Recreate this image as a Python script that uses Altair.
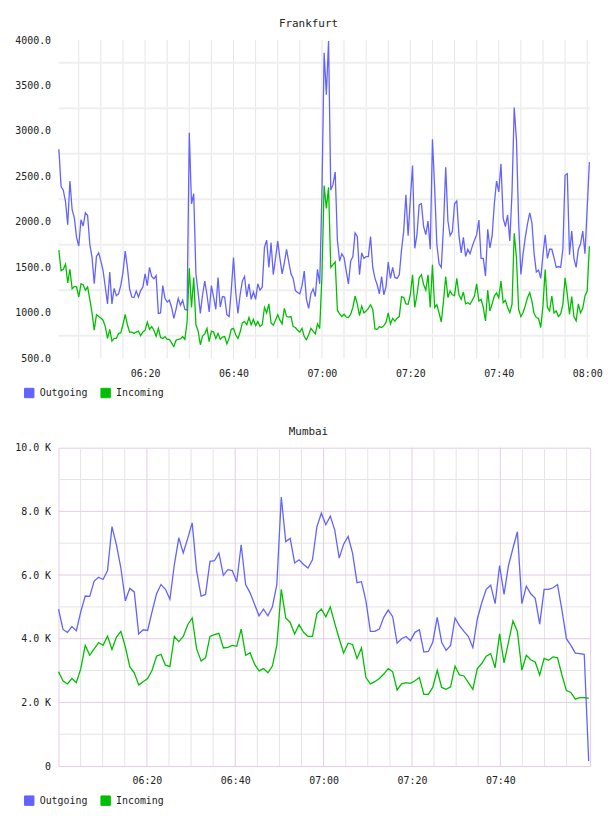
import altair as alt
import numpy as np
import pandas as pd

# ---------------------------------------------------------------------------
# Frankfurt: one sample every 30 s, 06:00:30 .. 08:00:30 (241 samples)
# ---------------------------------------------------------------------------
fra_outgoing = [
    2800, 2390, 2350, 2225, 1970, 2450, 2135, 2045, 1830, 1735,
    2025, 1955, 2100, 2070, 1755, 1610, 1320, 1620, 1660, 1570,
    1465, 1285, 1100, 1450, 1100, 1270, 1190, 1210, 1300, 1445,
    1680, 1500, 1265, 1175, 1170, 1240, 1175, 1245, 1285, 1430,
    1300, 1500, 1400, 1375, 1410, 995, 1000, 1300, 1160, 1120,
    1140, 1060, 940, 1040, 1160, 1085, 1140, 1040, 1030, 2980,
    2200, 2310, 1430, 1220, 995, 1200, 1350, 1200, 1010, 1300,
    1175, 1040, 1390, 1065, 1180, 1175, 980, 960, 1250, 1610,
    1230, 995, 1200, 1350, 1400, 1175, 1320, 1150, 1230, 1150,
    1320, 1250, 1285, 1720, 1800, 1500, 1770, 1420, 1600, 1790,
    1600, 1430, 1550, 1700, 1560, 1430, 1380, 1245, 1225, 1210,
    1300, 1460, 1150, 1050, 1210, 1265, 1180, 1480, 1320, 2300,
    3860, 3400, 3990, 2350, 2410, 2550, 1800, 1570, 1650, 1610,
    1460, 1320, 1570, 1620, 1880, 1840, 1420, 1660, 1600, 1620,
    1620, 1840, 1500, 1380, 1310, 1210, 1400, 1200, 1290, 1560,
    1380, 1500, 1390, 1380, 1420, 1690, 1900, 2300, 1850, 2250,
    2620, 1710, 1860, 2190, 2200, 1950, 1860, 2010, 1700, 2910,
    2370, 1750, 1540, 1500, 1950, 2600, 2010, 1850, 1895, 2200,
    2230, 1850, 1660, 1830, 1620, 1700, 1650, 1732, 1800, 1860,
    2020, 1600, 1600, 1405, 1920, 1714, 1850, 2200, 2450, 2330,
    2640, 2040, 1950, 2077, 1790, 2331, 3258, 2900, 2000, 1424,
    1650, 1830, 1980, 2100, 1990, 1650, 1450, 1470, 1380, 1640,
    1860, 1600, 1700, 1700, 1605, 1500, 1510, 1500, 1700, 2513,
    2531, 1641, 1900, 1600, 1500, 1700, 1760, 1900, 1650, 2150,
    2658,
]
fra_incoming = [
    1690, 1465, 1480, 1535, 1330, 1480, 1265, 1290, 1290, 1175,
    1320, 1310, 1250, 1285, 1150, 1000, 810, 980, 960, 945,
    920, 850, 720, 820, 690, 720, 720, 775, 780, 870,
    985, 870, 790, 790, 775, 790, 800, 750, 790, 810,
    900, 820, 850, 810, 745, 830, 730, 720, 740, 710,
    710, 670, 630, 700, 710, 715, 740, 710, 900, 1490,
    1060, 1390, 870, 800, 650, 745, 770, 830, 685, 800,
    790, 720, 775, 710, 735, 740, 660, 720, 820, 830,
    760, 720, 790, 890, 905, 870, 950, 870, 930, 860,
    905, 850, 870, 1060, 1000, 1100, 890, 865, 920, 980,
    920, 880, 1050, 960, 955, 960, 850, 840, 810, 790,
    830, 740, 705, 760, 830, 800, 770, 880, 830, 1400,
    2400, 2150, 2380, 1500, 1530, 1560, 1030, 990, 960, 985,
    955, 950, 985, 1060, 1186, 1100, 970, 1075, 1000, 1020,
    1050, 1090, 1040, 825, 820, 850, 840, 860, 895, 1000,
    880, 940, 910, 942, 960, 1180, 1170, 1100, 1095, 1200,
    1420, 1060, 1200, 1386, 1420, 1313, 1250, 1420, 1060, 1530,
    1060, 1090, 1000, 900, 1130, 1400, 1170, 1240, 1200, 1190,
    1380, 1200, 1150, 1230, 1100, 1113, 1095, 1140, 1186, 1320,
    1131, 1150, 1060, 913, 1250, 1022, 1100, 1186, 1220, 1168,
    1349, 1113, 1140, 1060, 1004, 1095, 1876, 1604, 1040, 960,
    1004, 1080, 1168, 1222, 1130, 990, 950, 940, 840, 1080,
    1477, 1060, 1022, 1186, 1000, 1022, 960, 990, 1095, 1386,
    1204, 986, 1180, 960, 913, 1100, 1000, 1050, 1186, 1240,
    1732,
]

# ---------------------------------------------------------------------------
# Mumbai: 120 samples spread evenly over 06:00 .. 08:00
# ---------------------------------------------------------------------------
mum_outgoing = [
    4930, 4290, 4200, 4380, 4250, 4850, 5340, 5330, 5810, 5930,
    5860, 6140, 7520, 6950, 6220, 5190, 5580, 5470, 4150, 4280,
    4260, 4850, 5410, 5700, 5550, 5240, 6330, 7170, 6690, 7150,
    7640, 6120, 5340, 5390, 6430, 6450, 6690, 5990, 6170, 6140,
    5790, 6950, 5700, 5440, 5080, 4720, 4930, 4720, 5000, 5700,
    8450, 7050, 7150, 6380, 6480, 6330, 6220, 6480, 7520, 7940,
    7580, 7850, 7410, 6530, 6970, 7210, 6690, 5760, 5790, 5190,
    4230, 4230, 4300, 4670, 4900, 4690, 3860, 4000, 4070, 3940,
    4200, 4280, 3580, 3600, 3890, 4670, 3890, 3630, 3790, 4650,
    4410, 4230, 4070, 3720, 4620, 5130, 5550, 5680, 5100, 6300,
    5390, 6300, 6840, 7360, 5100, 5650, 5410, 5270, 4460, 5550,
    5550, 5600, 5700, 4900, 4000, 3790, 3550, 3530, 3510, 160,
]
mum_incoming = [
    2960, 2680, 2580, 2750, 2620, 3060, 3790, 3480, 3680, 3880,
    3790, 4080, 3660, 4050, 4230, 3740, 3120, 2930, 2550, 2650,
    2750, 3010, 3450, 3510, 3170, 3120, 4070, 3910, 4070, 4440,
    4650, 3680, 3300, 3400, 4070, 4130, 4170, 3710, 3730, 3790,
    3760, 4300, 3480, 3560, 3200, 2990, 3060, 2930, 3140, 3790,
    5550, 4650, 4510, 4150, 4440, 4200, 4070, 4070, 4790, 4930,
    4690, 5000, 4480, 4000, 3550, 3860, 3820, 3380, 3710, 2780,
    2580, 2650, 2750, 2890, 3060, 2960, 2390, 2580, 2620, 2600,
    2680, 2780, 2250, 2250, 2470, 3010, 2470, 2410, 2490, 3140,
    2860, 2830, 2620, 2410, 3060, 3220, 3450, 3530, 3090, 4150,
    3240, 3890, 4560, 4230, 3010, 3480, 3340, 3270, 2860, 3380,
    3320, 3430, 3400, 2860, 2370, 2310, 2100, 2150, 2150, 2130,
]

SERIES = ["Outgoing", "Incoming"]
COLORS = ["#6262ff", "#00bf00"]
MONO = "DejaVu Sans Mono"
TEXT = "#222222"


def long_table(minutes, outgoing, incoming):
    return pd.DataFrame({
        "minute": np.concatenate([minutes, minutes]),
        "value": outgoing + incoming,
        "series": ["Outgoing"] * len(outgoing) + ["Incoming"] * len(incoming),
    })


# sample times in minutes after 06:00
fra_minutes = 0.5 + 0.5 * np.arange(len(fra_outgoing))
mum_minutes = np.arange(len(mum_outgoing)) * 120.0 / (len(mum_outgoing) - 1)

fra_df = long_table(fra_minutes, fra_outgoing, fra_incoming)
mum_df = long_table(mum_minutes, mum_outgoing, mum_incoming)

TIME_LABEL = "timeFormat(datetime(2000, 0, 1, 6, datum.value), '%H:%M')"


def panel(title, df, x_domain, x_labels, y_domain, y_labels, y_label_expr,
          grid_specs):
    x = alt.X(
        "minute:Q",
        scale=alt.Scale(domain=x_domain, nice=False, zero=False),
        axis=alt.Axis(values=x_labels, labelExpr=TIME_LABEL, grid=False, domain=False,
                      ticks=False, labelFont=MONO, labelFontSize=10, labelColor=TEXT,
                      labelPadding=10, labelFlush=False, title=None),
    )
    y = alt.Y(
        "value:Q",
        scale=alt.Scale(domain=y_domain, nice=False, zero=False),
        axis=alt.Axis(values=y_labels, labelExpr=y_label_expr, grid=False, domain=False,
                      ticks=False, labelFont=MONO, labelFontSize=10, labelColor=TEXT,
                      labelPadding=8, labelFlush=False, title=None),
    )

    # filled squares that only feed the legend; the filter leaves nothing to draw
    key = alt.Chart(df).transform_filter(alt.datum.value < 0).mark_square(
        filled=True, opacity=1).encode(
        x=x, y=y,
        fill=alt.Fill(
            "series:N",
            scale=alt.Scale(domain=SERIES, range=COLORS),
            legend=alt.Legend(title=None, orient="none", legendX=-35, legendY=350,
                              direction="horizontal", symbolType="square", symbolSize=90,
                              symbolStrokeColor="#9a9a9a", symbolStrokeWidth=1,
                              symbolOpacity=1,
                              labelFont=MONO, labelFontSize=10, labelColor=TEXT,
                              labelOffset=5, columnPadding=10, padding=0),
        ),
    )

    # grid lines drawn as rules on the panel's own scales
    grids = []
    for field, values, color, width in grid_specs:
        rule = alt.Chart(pd.DataFrame({field: values})).mark_rule(
            color=color, strokeWidth=width)
        grids.append(rule.encode(x=x) if field == "minute" else rule.encode(y=y))

    lines = [
        alt.Chart(df).transform_filter(alt.datum.series == s)
        .mark_line(strokeWidth=1.3, interpolate="linear")
        .encode(x=x, y=y, stroke=alt.Stroke("series:N",
                                            scale=alt.Scale(domain=SERIES, range=COLORS),
                                            legend=None))
        for s in SERIES
    ]
    return alt.layer(key, *grids, *lines).properties(
        width=536, height=321,
        title=alt.TitleParams(title, font=MONO, fontSize=11, fontWeight="normal",
                              color=TEXT, anchor="middle", dx=-16, dy=-2),
    )


frankfurt = panel(
    "Frankfurt", fra_df, [0.42, 120.67], [20, 40, 60, 80, 100, 120],
    [500, 4000], [500, 1000, 1500, 2000, 2500, 3000, 3500, 4000],
    "format(datum.value, '.1f')",
    [
        ("minute", list(range(5, 121, 5)), "#e6e6e6", 1),
        ("value", [750, 1250, 1750, 2250, 2750, 3250, 3750], "#efefef", 2),
    ],
)

PURPLE = "#e2cce2"
mumbai = panel(
    "Mumbai", mum_df, [0, 120.33], [20, 40, 60, 80, 100],
    [0, 10000], [0, 2000, 4000, 6000, 8000, 10000],
    "datum.value == 0 ? '0' : format(datum.value / 1000, '.1f') + ' K'",
    [
        ("minute", [m for m in range(5, 120, 5) if m % 20], "#e4e4e4", 1),
        ("value", [1000, 3000, 5000, 7000, 9000], "#e4e4e4", 1),
        ("minute", [20, 40, 60, 80, 100], PURPLE, 1),
        ("value", [2000, 4000, 6000, 8000], PURPLE, 1),
    ],
).properties(view=alt.ViewBackground(stroke=PURPLE, strokeWidth=1))

chart = (
    alt.vconcat(frankfurt, mumbai, spacing=25)
    .resolve_scale(fill="independent", stroke="independent")
    .resolve_legend(fill="independent")
    .configure_view(strokeWidth=0)
    .properties(background="white", padding={"left": 14, "top": 15, "right": 5, "bottom": 5})
)

chart.save("out.html", embed_options={"renderer": "svg", "actions": False})
